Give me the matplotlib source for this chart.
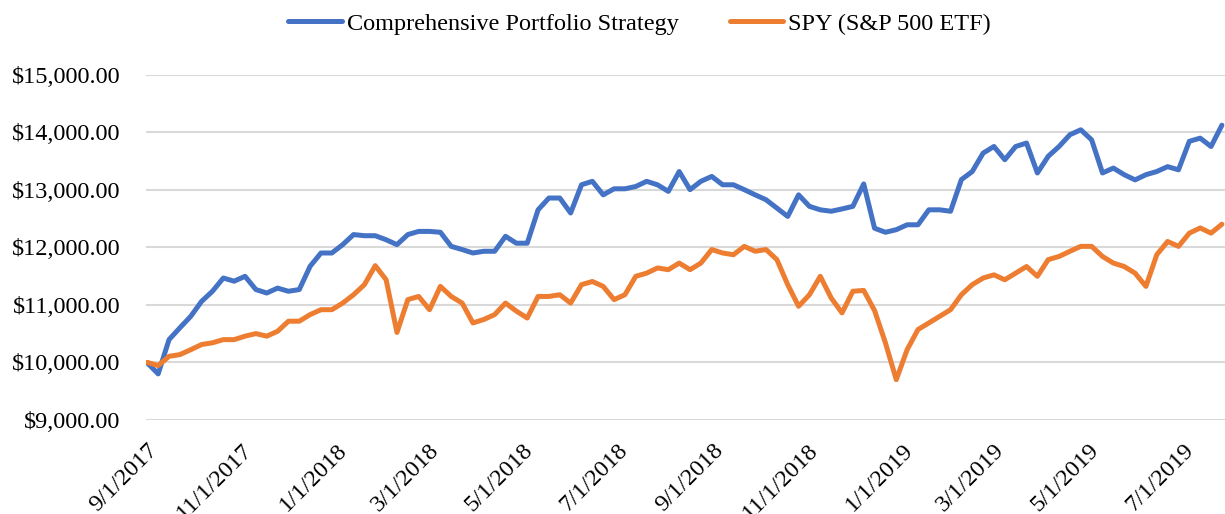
import pandas as pd
import matplotlib.pyplot as plt

# Weekly values, starting 9/1/2017
start_date = '2017-09-01'
portfolio = [9990, 9800, 10395, 10600, 10800, 11060, 11235, 11465, 11410, 11495,
             11265, 11205, 11290, 11235, 11265, 11670, 11900, 11900, 12045, 12220,
             12200, 12200, 12130, 12045, 12220, 12275, 12275, 12260, 12015, 11960,
             11900, 11930, 11930, 12190, 12070, 12070, 12650, 12855, 12855, 12595,
             13085, 13145, 12910, 13015, 13015, 13055, 13145, 13085, 12970, 13315,
             13000, 13145, 13230, 13085, 13085, 13000, 12910, 12825, 12680, 12535,
             12910, 12710, 12650, 12625, 12665, 12710, 13100, 12330, 12260, 12305,
             12390, 12390, 12650, 12650, 12625, 13175, 13315, 13635, 13750, 13520,
             13750, 13810, 13290, 13580, 13750, 13955, 14040, 13865, 13290, 13375,
             13260, 13170, 13260, 13315, 13400, 13345, 13840, 13895, 13750, 14120]
spy = [10000, 9944, 10105, 10135, 10220, 10310, 10340, 10395, 10395, 10455,
       10500, 10455, 10540, 10715, 10715, 10830, 10915, 10915, 11030, 11175,
       11350, 11680, 11435, 10520, 11090, 11145, 10915, 11320, 11145, 11030,
       10685, 10745, 10830, 11030, 10890, 10770, 11145, 11145, 11175, 11030,
       11350, 11405, 11320, 11090, 11175, 11495, 11550, 11640, 11610, 11725,
       11610, 11725, 11960, 11900, 11870, 12015, 11930, 11960, 11785, 11350,
       10975, 11175, 11495, 11120, 10860, 11235, 11250, 10900, 10340, 9700,
       10220, 10570, 10685, 10800, 10915, 11175, 11350, 11465, 11520, 11435,
       11550, 11665, 11495, 11785, 11840, 11930, 12015, 12015, 11840, 11725,
       11665, 11550, 11320, 11870, 12100, 12015, 12245, 12335, 12245, 12400]
tick_dates = ['2017-09-01', '2017-11-01', '2018-01-01', '2018-03-01', '2018-05-01', '2018-07-01',
              '2018-09-01', '2018-11-01', '2019-01-01', '2019-03-01', '2019-05-01', '2019-07-01']
tick_labels = ['9/1/2017', '11/1/2017', '1/1/2018', '3/1/2018', '5/1/2018', '7/1/2018',
               '9/1/2018', '11/1/2018', '1/1/2019', '3/1/2019', '5/1/2019', '7/1/2019']
y_ticks = [9000, 10000, 11000, 12000, 13000, 14000, 15000]

dates = pd.date_range(start_date, periods=len(portfolio), freq='7D')

plt.rcParams['font.family'] = ['Liberation Serif', 'DejaVu Serif']

fig = plt.figure(figsize=(12.25, 5.14), dpi=100)
ax = fig.add_axes([0.119, 0.183, 0.881, 0.672])

ax.plot(dates, portfolio, color='#4472C4', linewidth=3.6, solid_capstyle='round',
        solid_joinstyle='round', label='Comprehensive Portfolio Strategy')
ax.plot(dates, spy, color='#ED7D31', linewidth=3.6, solid_capstyle='round',
        solid_joinstyle='round', label='SPY (S&P 500 ETF)')

ax.set_ylim(9000, 15000)
ax.set_yticks(y_ticks)
ax.set_yticklabels([f'${v:,.2f}' for v in y_ticks], fontsize=17.5)
ax.set_xlim(dates[0] - pd.Timedelta(days=1), dates[-1] + pd.Timedelta(days=2))
ax.set_xticks(pd.to_datetime(tick_dates))
ax.set_xticklabels(tick_labels, fontsize=17.5, rotation=45, ha='right', rotation_mode='anchor')

ax.grid(axis='y', color='#D9D9D9', linewidth=1.5)
ax.set_axisbelow(True)
ax.tick_params(length=0)
ax.tick_params(axis='y', pad=18)
ax.tick_params(axis='x', pad=14)
for s in ax.spines.values():
    s.set_visible(False)

fig.legend(loc='upper center', bbox_to_anchor=(0.522, 1.018), ncol=2, frameon=False,
           fontsize=17.5, handlelength=2.2, handletextpad=0.2, columnspacing=2.1)

plt.savefig('out.png', dpi=100)
